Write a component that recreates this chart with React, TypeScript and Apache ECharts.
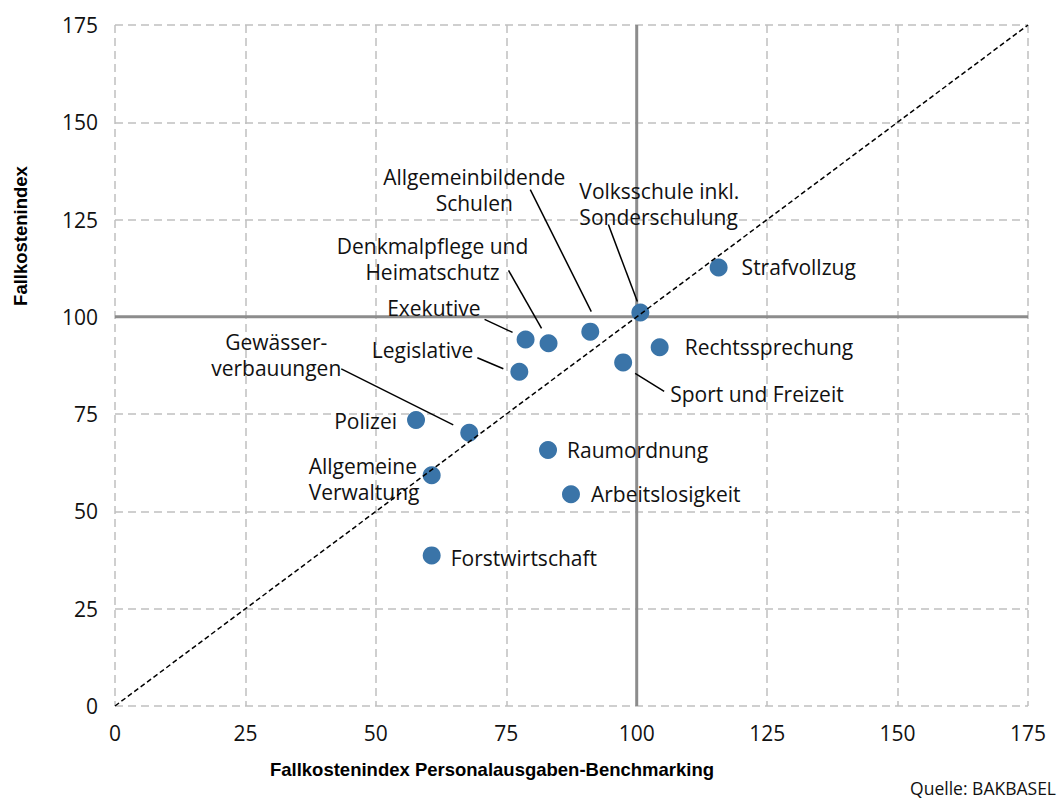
import React, { useEffect, useRef } from "react";
import * as echarts from "echarts";

// ---- Data ----
const names: string[] = [
  "Strafvollzug",
  "Volksschule inkl.\nSonderschulung",
  "Allgemeinbildende\nSchulen",
  "Denkmalpflege und\nHeimatschutz",
  "Exekutive",
  "Legislative",
  "Rechtssprechung",
  "Sport und Freizeit",
  "Gewässer-\nverbauungen",
  "Polizei",
  "Raumordnung",
  "Allgemeine\nVerwaltung",
  "Arbeitslosigkeit",
  "Forstwirtschaft",
];
const xValues: number[] = [115.7, 100.7, 91.1, 83.1, 78.7, 77.5, 104.4, 97.4, 67.9, 57.7, 83.0, 60.7, 87.4, 60.7];
const yValues: number[] = [112.7, 101.1, 96.2, 93.2, 94.2, 85.9, 92.2, 88.3, 70.2, 73.5, 65.8, 59.3, 54.4, 38.7];
const axisMin = 0;
const axisMax = 175;
const axisStep = 25;
const benchmark = 100;
const xTitle = "Fallkostenindex Personalausgaben-Benchmarking";
const yTitle = "Fallkostenindex";
const sourceText = "Quelle: BAKBASEL";

// ---- Label placement (styling, pixel offsets from the marker) ----
type Placement = { align: "left" | "center" | "right"; dx: number; dy: number; leader?: [number, number, number, number] };
const placement: Placement[] = [
  { align: "left", dx: 23, dy: 0 },
  { align: "left", dx: -61, dy: -109, leader: [-32, -88, -3, -11] },
  { align: "center", dx: -116, dy: -142, leader: [-60, -142, 1, -20] },
  { align: "center", dx: -116, dy: -84, leader: [-40, -73, -7, -15] },
  { align: "right", dx: -45, dy: -31, leader: [-41, -20, -13, -7] },
  { align: "right", dx: -46, dy: -22, leader: [-42, -14, -16, -3] },
  { align: "left", dx: 25, dy: 0 },
  { align: "left", dx: 47, dy: 32, leader: [12, 11, 41, 29] },
  { align: "center", dx: -193, dy: -78, leader: [-128, -64, -16, -8] },
  { align: "right", dx: -19, dy: 1 },
  { align: "left", dx: 19, dy: 0 },
  { align: "left", dx: -123, dy: 4 },
  { align: "left", dx: 20, dy: 0 },
  { align: "left", dx: 19, dy: 3 },
];

const FONT = "'Open Sans', sans-serif";
const TITLE_FONT = "'Liberation Sans Narrow', 'Liberation Sans', sans-serif";

export default function App() {
  const ref = useRef<HTMLDivElement>(null);

  useEffect(() => {
    if (!ref.current) return;
    const chart = echarts.init(ref.current, null, { renderer: "svg" });

    const axisCommon = {
      type: "value" as const,
      min: axisMin,
      max: axisMax,
      interval: axisStep,
      axisLine: { show: false },
      axisTick: { show: false },
      splitLine: {
        show: true,
        showMinLine: true,
        showMaxLine: true,
        lineStyle: { color: "#c0c0c0", width: 1.5, type: [8, 5] as any },
      },
    };

    const leaderData = names
      .map((_, i) => i)
      .filter((i) => placement[i].leader)
      .map((i) => [xValues[i], yValues[i], i]);

    const option: any = {
      animation: false,
      backgroundColor: "#ffffff",
      grid: { left: 115, right: 33, top: 25, bottom: 93 },
      xAxis: {
        ...axisCommon,
        axisLabel: { margin: 16, fontSize: 21, color: "#111", fontFamily: FONT },
      },
      yAxis: {
        ...axisCommon,
        axisLabel: { margin: 17, fontSize: 21, color: "#111", fontFamily: FONT },
      },
      series: [
        {
          type: "line",
          silent: true,
          symbol: "none",
          z: 2,
          data: [
            [benchmark, axisMin],
            [benchmark, axisMax],
          ],
          lineStyle: { color: "#8c8c8c", width: 3 },
        },
        {
          type: "line",
          silent: true,
          symbol: "none",
          z: 2,
          data: [
            [axisMin, benchmark],
            [axisMax, benchmark],
          ],
          lineStyle: { color: "#8c8c8c", width: 3 },
        },
        {
          type: "custom",
          silent: true,
          z: 3,
          encode: { x: 0, y: 1 },
          data: leaderData,
          renderItem: (params: any, api: any) => {
            const i = api.value(2);
            const L = placement[i].leader!;
            const p = api.coord([api.value(0), api.value(1)]);
            return {
              type: "line",
              shape: { x1: p[0] + L[0], y1: p[1] + L[1], x2: p[0] + L[2], y2: p[1] + L[3] },
              style: { stroke: "#000", lineWidth: 1.5 },
            };
          },
        },
        {
          type: "scatter",
          z: 10,
          symbolSize: 18,
          itemStyle: { color: "#3a74a8", opacity: 1 },
          label: {
            show: true,
            position: "inside",
            formatter: "{b}",
            fontSize: 21,
            lineHeight: 26,
            fontFamily: FONT,
            color: "#111",
          },
          data: names.map((n, i) => ({
            name: n,
            value: [xValues[i], yValues[i]],
            label: {
              align: placement[i].align,
              verticalAlign: "middle",
              offset: [placement[i].dx, placement[i].dy],
            },
          })),
        },
        {
          type: "line",
          silent: true,
          symbol: "none",
          z: 12,
          data: [
            [axisMin, axisMin],
            [axisMax, axisMax],
          ],
          lineStyle: { color: "#000", width: 1.5, type: [5, 3] },
        },
      ],
      graphic: [
        {
          type: "text",
          x: 492,
          y: 769,
          style: {
            text: xTitle,
            font: `bold 18.5px ${TITLE_FONT}`,
            fill: "#000",
            textAlign: "center",
            textVerticalAlign: "middle",
          },
        },
        {
          type: "text",
          x: 20,
          y: 236,
          rotation: Math.PI / 2,
          style: {
            text: yTitle,
            font: `bold 18.5px ${TITLE_FONT}`,
            fill: "#000",
            textAlign: "center",
            textVerticalAlign: "middle",
          },
        },
        {
          type: "text",
          x: 1056,
          y: 788,
          style: {
            text: sourceText,
            font: `17.5px ${FONT}`,
            fill: "#111",
            textAlign: "right",
            textVerticalAlign: "middle",
          },
        },
      ],
    };

    chart.setOption(option);
    return () => chart.dispose();
  }, []);

  return (
    <div
      ref={ref}
      style={{ position: "absolute", left: 0, top: 0, width: 1061, height: 799, background: "#fff" }}
    />
  );
}
